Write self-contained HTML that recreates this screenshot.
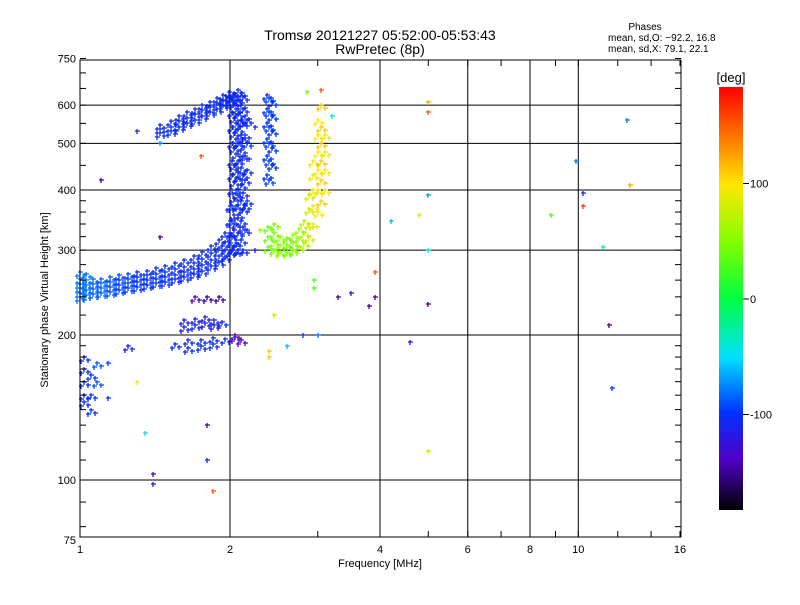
<!DOCTYPE html>
<html><head><meta charset="utf-8"><style>
body{margin:0;background:#fff;}
svg text{font-family:"Liberation Sans",sans-serif;fill:#000;}
</style></head><body>
<svg id="c" width="800" height="600" xmlns="http://www.w3.org/2000/svg">
<rect width="800" height="600" fill="#fff"/>
<text x="380" y="40" font-size="14" text-anchor="middle">Tromsø 20121227 05:52:00-05:53:43</text>
<text x="380" y="54" font-size="14" text-anchor="middle">RwPretec (8p)</text>
<text x="645" y="30" font-size="10" text-anchor="middle">Phases</text>
<text x="608" y="41" font-size="10">mean, sd,O: −92.2, 16.8</text>
<text x="608" y="52" font-size="10">mean, sd,X:  79.1, 22.1</text>
<g id="grid"></g>
<g id="pts"></g>
<rect x="80" y="60" width="601" height="477" fill="none" stroke="#000" stroke-width="1"/>
<g id="axes"></g>
<text x="380" y="567" font-size="11" text-anchor="middle">Frequency [MHz]</text>
<text x="48" y="300" font-size="11" text-anchor="middle" transform="rotate(-90 48 300)">Stationary phase Virtual Height [km]</text>
<defs><linearGradient id="cg" x1="0" y1="0" x2="0" y2="1">
<stop offset="0" stop-color="#ff0000"/><stop offset="0.14" stop-color="#ff8c00"/><stop offset="0.23" stop-color="#ffe600"/><stop offset="0.37" stop-color="#80ff00"/><stop offset="0.5" stop-color="#00ff40"/><stop offset="0.64" stop-color="#00e0ff"/><stop offset="0.77" stop-color="#0030ff"/><stop offset="0.88" stop-color="#5000c8"/><stop offset="1" stop-color="#000000"/>
</linearGradient></defs>
<rect x="719" y="87" width="24" height="423" fill="url(#cg)"/>
<text x="731" y="82" font-size="13" text-anchor="middle">[deg]</text>
<g id="cbt"></g>
</svg>
<script>
const NS="http://www.w3.org/2000/svg";
const xTicks=[1,2,4,6,8,10,16];
const yTicks=[75,100,200,300,400,500,600,750];
const cbTicks=[100,0,-100];
// rows: [freq MHz, phase deg, heights km...]
const oTrace=[[1.00,-80,240,245,250,255,262,270],[1.03,-80,242,248,254,260,268],[1.06,-85,243,249,255,262],[1.10,-85,244,250,256,262],[1.15,-90,246,252,258,264],[1.20,-95,248,254,260,266],[1.25,-95,250,256,262,268],[1.30,-100,252,258,264,270],[1.36,-100,254,260,266,272],[1.42,-100,256,262,268,275],[1.48,-100,258,264,270,278],[1.55,-105,261,267,274,282],[1.62,-105,264,270,277,286],[1.69,-105,268,274,282,292],[1.76,-105,272,279,288,298],[1.83,-105,278,286,296,306],[1.90,-105,284,292,303,315],[1.95,-105,290,300,312,325],[2.00,-105,298,310,325,345,370]];
const oVertical=[[2.02,-105,300,320,345,370,400,430,460,500,540,580,620],[2.04,-110,305,330,355,385,415,450,490,525,565,605,635],[2.06,-105,310,340,370,400,440,475,510,550,590,625],[2.08,-100,300,325,355,390,425,460,500,535,575,615,645],[2.10,-105,315,345,380,410,445,485,520,560,600,635],[2.12,-110,300,335,365,395,430,470,510,550,590,625],[2.14,-105,330,370,420,470,520,570],[2.16,-100,380,440,500,560]];
const oUpper=[[1.45,-105,525,535,545],[1.52,-105,530,540,555],[1.58,-105,540,555,570],[1.64,-105,550,565,580],[1.70,-105,560,575,590],[1.76,-105,570,585,600],[1.82,-105,580,595,610],[1.88,-105,590,605,620],[1.94,-105,600,615,630],[1.99,-105,610,625,640]];
const oCusp=[[2.37,-100,430,470,510,550,590,630],[2.40,-95,420,460,500,540,580,620],[2.43,-100,450,490,530,570,610]];
const xTrace=[[2.38,40,305,320,335],[2.45,50,300,312,325,340],[2.52,55,298,308,320],[2.60,45,298,308,318],[2.68,50,300,310,322],[2.75,60,305,318,332],[2.82,70,310,325,345],[2.88,80,320,340,365,390],[2.94,90,340,370,400,430,460],[3.00,100,360,400,440,480,520,560],[3.05,110,380,420,460,500,540,600],[3.10,95,400,440,480,520]];
const lowEchoes=[[1.62,-115,208,215],[1.70,-115,210,216],[1.78,-115,212,218],[1.86,-115,210,215],[1.93,-110,213],[1.25,-110,190],[1.55,-105,192],[1.65,-105,195,188],[1.75,-105,195,190],[1.85,-105,197,192],[1.95,-105,196],[2.05,-140,198,200],[2.10,-140,195],[1.70,-140,240],[1.80,-150,240],[1.90,-150,240],[1.02,-105,180,170,160,150,145],[1.05,-100,165,150,140],[1.08,-90,175,160]];
const sparse=[[1.14,-100,175,148],[1.35,-50,125],[1.30,100,160],[1.40,-140,103],[1.40,-130,98],[1.80,-150,130],[1.80,-110,110],[1.85,150,95],[2.40,110,180,185],[2.45,80,220],[2.25,-110,540],[2.60,-60,190],[2.80,-110,200],[2.95,30,250,260],[3.00,-80,200],[3.3,-150,240],[3.5,-130,245],[3.8,-150,230],[3.9,150,270],[3.9,-150,240],[4.2,-60,345],[4.6,-130,193],[4.8,80,355],[5.0,-70,390],[5.0,150,580],[5.0,120,610],[5.0,80,115],[5.0,-150,232],[8.8,30,355],[9.9,-80,460],[10.2,160,370],[10.2,-100,395],[11.2,-30,305],[11.5,-150,210],[12.5,-80,560],[11.7,-100,155],[12.7,120,410],[5.0,-50,300],[3.2,-30,570],[2.85,40,640],[3.05,150,645],[1.1,-150,420],[1.3,-110,530],[1.45,-70,500],[1.75,150,470],[1.45,-150,320],[2.25,-110,300],[2.3,60,330]];

const xS=f=>80+150*Math.log2(f);
const yS=h=>480-145*Math.log2(h/100);
const cbY=p=>299-1.155*p;
const stops=[[180,[255,0,0]],[130,[255,140,0]],[100,[255,230,0]],[50,[128,255,0]],[0,[0,255,64]],[-50,[0,224,255]],[-100,[0,48,255]],[-140,[80,0,200]],[-180,[0,0,0]]];
function col(p){for(let i=0;i<stops.length-1;i++){const [a,ca]=stops[i],[b,cb]=stops[i+1];if(p<=a&&p>=b){const t=(a-p)/(a-b);return 'rgb('+ca.map((v,k)=>Math.round(v+(cb[k]-v)*t)).join(',')+')';}}return p>0?'red':'black';}
function mk(tag,attrs,parent){const e=document.createElementNS(NS,tag);for(const k in attrs)e.setAttribute(k,attrs[k]);parent.appendChild(e);return e;}
const grid=document.getElementById('grid'),axes=document.getElementById('axes'),pts=document.getElementById('pts'),cbt=document.getElementById('cbt');
[2,4,6,8,10].forEach(f=>{const l=mk('line',{x1:xS(f),x2:xS(f),y1:60,y2:537,stroke:'#000'},grid);

});
[100,200,300,400,500,600].forEach(h=>{const l=mk('line',{x1:80,x2:681,y1:yS(h),y2:yS(h),stroke:'#000'},grid);

});
xTicks.forEach(f=>{const t=mk('text',{x:xS(f),y:553,'font-size':11,'text-anchor':'middle'},axes);t.textContent=f;

});
for(let f=1;f<=16;f+=(f<10?1:2)){mk('line',{x1:xS(f),x2:xS(f),y1:537,y2:531,stroke:'#000'},axes);mk('line',{x1:xS(f),x2:xS(f),y1:60,y2:66,stroke:'#000'},axes);}
yTicks.forEach(h=>{const t=mk('text',{x:76,y:yS(h)+4,'font-size':11,'text-anchor':'end'},axes);t.textContent=h;

});
for(let h=80;h<=750;h+=(h<100?10:h<200?10:h<400?20:50)){mk('line',{x1:80,x2:86,y1:yS(h),y2:yS(h),stroke:'#000'},axes);mk('line',{x1:681,x2:675,y1:yS(h),y2:yS(h),stroke:'#000'},axes);}
cbTicks.forEach(p=>{mk('line',{x1:743,x2:749,y1:cbY(p),y2:cbY(p),stroke:'#000'},cbt);const t=mk('text',{x:750,y:cbY(p)+4,'font-size':11},cbt);t.textContent=p;

});
let d={};
[oTrace,oVertical,oUpper,oCusp,xTrace,lowEchoes,sparse].forEach(set=>set.forEach(r=>{const f=r[0],p=r[1],c=col(p);for(let i=2;i<r.length;i++){const x=Math.round(xS(f)),y=Math.round(yS(r[i]));
for(const [dx,dy] of [[0,0],[4,3],[-3,4]]){if(set===sparse&&(dx||dy))continue;(d[c]=d[c]||[]).push('M'+(x+dx-2)+' '+(y+dy)+'h5M'+(x+dx)+' '+(y+dy-2)+'v5');}}}));
for(const c in d){const p=mk('path',{d:d[c].join(''),stroke:c,'stroke-width':1.3,fill:'none'},pts);

}
</script>
</body></html>
